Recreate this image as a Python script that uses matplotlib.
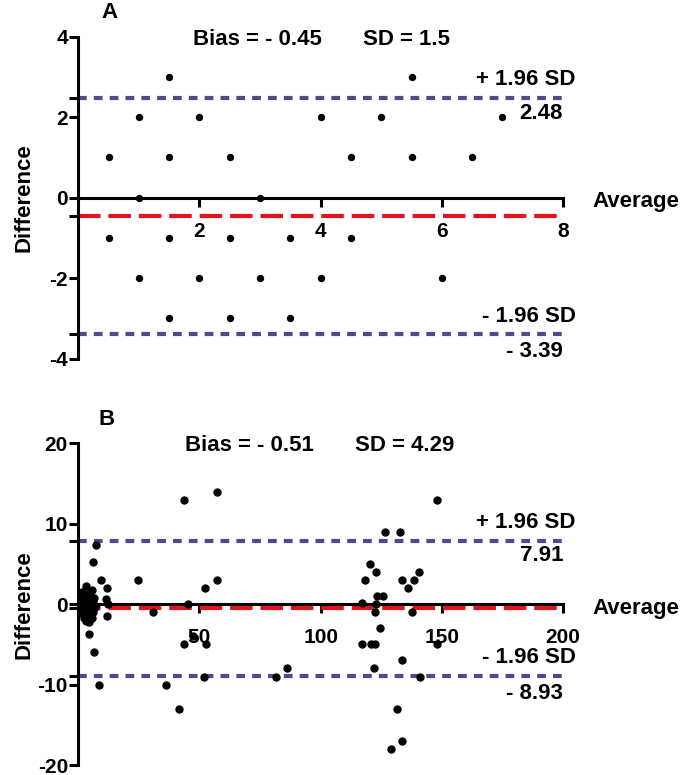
import matplotlib
matplotlib.use('Agg')
import matplotlib.pyplot as plt
from matplotlib.ticker import FixedLocator

plt.rcParams['font.family'] = ['Liberation Sans', 'DejaVu Sans']
plt.rcParams['font.weight'] = 'bold'
plt.rcParams['axes.unicode_minus'] = False

# panel A
a_avg = [1.5, 5.5,
         1, 2, 4, 5, 7,
         0.5, 1.5, 2.5, 4.5, 5.5, 6.5,
         1, 3,
         0.5, 1.5, 2.5, 3.5, 4.5,
         1, 2, 3, 4, 6,
         1.5, 2.5, 3.5]
a_diff = [3, 3,
          2, 2, 2, 2, 2,
          1, 1, 1, 1, 1, 1,
          0, 0,
          -1, -1, -1, -1, -1,
          -2, -2, -2, -2, -2,
          -3, -3, -3]
a_bias = -0.45
a_sd = 1.5
a_upper = 2.48
a_lower = -3.39
a_xticks = [2, 4, 6, 8]
a_yticks = [-4, -2, 0, 2, 4]

# panel B
b_avg = [43.7, 57.2, 7.3, 6.2, 9.4, 24.8, 57.2, 52.1, 11.7, 11.4, 45.2, 12.4,
         30.7, 11.7, 4.4, 43.7, 47.2, 52.5, 6.6, 8.7, 36.2, 51.7, 41.6,
         147.9, 126.5, 132.7, 120.4, 123.0, 118.5, 133.5, 138.7, 140.4, 136.2,
         123.2, 125.6, 116.9, 123.0, 122.5, 137.7, 124.5, 117.0, 120.7, 122.5,
         148.0, 133.7, 122.0, 86.3, 81.7, 140.8, 131.4, 133.7, 129.0,
         1, 1.5, 2, 2, 2.5, 3, 3, 3, 3.5, 3.5, 4, 4, 4.5, 5, 5, 5.5, 5.5,
         6, 6, 2.5, 4.5, 1.5, 6.5, 7]
b_diff = [13.0, 14.0, 7.3, 5.2, 3.0, 3.0, 3.0, 2.0, 2.0, 0.6, 0.0, 0.0,
          -1.0, -1.5, -3.7, -5.0, -3.9, -5.0, -6.0, -10.0, -10.0, -9.0, -13.0,
          13, 9, 9, 5, 4, 3, 3, 3, 4, 2,
          1, 1, 0.1, 0, -1, -1, -3, -5, -5, -5,
          -5, -7, -8, -8, -9, -9, -13, -17, -18,
          0.3, -0.5, 1, -1.2, 0.2, 2.2, -2.1, 0.8, -0.8, 1.3, 0, -1.5, 0.6, 1.2,
          -0.6, 1.8, -1.7, 0.3, -1, -1.7, -2.2, 1.5, 0.8, -0.3]
b_bias = -0.51
b_sd = 4.29
b_upper = 7.91
b_lower = -8.93
b_xticks = [50, 100, 150, 200]
b_yticks = [-20, -10, 0, 10, 20]

BLUE = '#4e4a8e'
RED = '#e3131b'
FS = 16
TFS = 15


def draw_panel(ax, avg, diff, bias, sd, upper, lower, xmax, ymax, xticks, yticks,
               letter, msize, txt):
    ax.set_xlim(0, xmax)
    ax.set_ylim(-ymax, ymax)
    for s in ['top', 'right']:
        ax.spines[s].set_visible(False)
    ax.spines['bottom'].set_position(('data', 0))
    for s in ['left', 'bottom']:
        ax.spines[s].set_linewidth(2.2)
    ax.plot([0, xmax], [upper, upper], color=BLUE, lw=3, dashes=(2.1, 1.7), zorder=2)
    ax.plot([0, xmax], [lower, lower], color=BLUE, lw=3, dashes=(2.1, 1.7), zorder=2)
    ax.plot([0, xmax], [bias, bias], color=RED, lw=3, dashes=(5.4, 1.9), zorder=2)
    ax.plot(avg, diff, 'o', color='black', ms=msize, zorder=4, clip_on=False)

    ax.set_xticks(xticks)
    ax.set_xticklabels([str(t) for t in xticks], fontsize=TFS, fontweight='bold')
    ax.set_yticks(yticks)
    ax.set_yticklabels([str(t) for t in yticks], fontsize=TFS, fontweight='bold')
    ax.yaxis.set_minor_locator(FixedLocator([upper, bias, lower]))
    ax.xaxis.set_minor_locator(FixedLocator([]))
    ax.tick_params(axis='x', which='major', direction='out', length=6.5, width=2.2,
                   pad=11)
    ax.tick_params(axis='y', which='both', direction='out', length=6.5, width=2.2,
                   pad=1)

    fx, fy = xmax / 8.0, ymax / 4.0
    ax.text(txt[2] * fx, 4.6 * fy, letter, fontsize=FS, ha='center', va='center')
    ax.text(txt[0] * fx, 3.94 * fy, 'Bias = - %.2f' % -bias, fontsize=FS,
            ha='center', va='center')
    ax.text(txt[1] * fx, 3.94 * fy, 'SD = %s' % sd, fontsize=FS, ha='center',
            va='center')
    ax.text(8.21 * fx, upper + 0.45 * fy, '+ 1.96 SD', fontsize=FS, ha='right',
            va='center')
    ax.text(8.0 * fx, upper - 0.38 * fy, '%.2f' % upper, fontsize=FS, ha='right',
            va='center')
    ax.text(8.21 * fx, lower + 0.45 * fy, '- 1.96 SD', fontsize=FS, ha='right',
            va='center')
    ax.text(8.0 * fx, lower - 0.44 * fy, '- %.2f' % -lower, fontsize=FS, ha='right',
            va='center')
    ax.text(8.48 * fx, -0.1 * fy, 'Average', fontsize=FS, ha='left', va='center',
            clip_on=False)
    ax.text(-0.9 * fx, 0, 'Difference', fontsize=FS, ha='center', va='center',
            rotation=90)


fig = plt.figure(figsize=(6.85, 7.75), dpi=100)
ax_a = fig.add_axes([0.1143, 0.5372, 0.7076, 0.4155])
ax_b = fig.add_axes([0.1143, 0.0129, 0.7076, 0.4151])

draw_panel(ax_a, a_avg, a_diff, a_bias, a_sd, a_upper, a_lower, 8, 4,
           a_xticks, a_yticks, 'A', 4.3, (2.96, 5.41, 0.52))
draw_panel(ax_b, b_avg, b_diff, b_bias, b_sd, b_upper, b_lower, 200, 20,
           b_xticks, b_yticks, 'B', 5.0, (2.82, 5.38, 0.46))

fig.savefig('out.png', dpi=100)
